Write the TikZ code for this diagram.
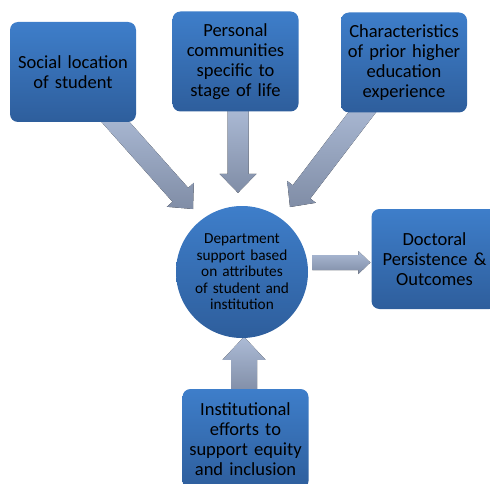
\documentclass[tikz,border=0pt]{standalone}
\usepackage{fontspec}
\setmainfont{Carlito}
\usetikzlibrary{calc,backgrounds}

\definecolor{boxtop}{RGB}{62,126,202}
\definecolor{boxbot}{RGB}{46,94,156}
\definecolor{arrtop}{RGB}{172,187,214}
\definecolor{arrbot}{RGB}{128,141,166}

% block arrow: start, tip, shaft half width, head half width, head length
\newcommand{\blockarrow}[5]{%
  \coordinate (ha) at ($(#2)!#5!(#1)$);
  \fill[arrowfill] ($(#1)!#3!90:(#2)$) -- ($(ha)!#3!90:(#2)$) -- ($(ha)!#4!90:(#2)$) -- (#2)
    -- ($(ha)!#4!-90:(#2)$) -- ($(ha)!#3!-90:(#2)$) -- ($(#1)!#3!-90:(#2)$) -- cycle;}

\begin{document}
\begin{tikzpicture}[x=1pt,y=1pt]
\tikzstyle{box} = [rectangle, rounded corners=8pt, top color=boxtop, bottom color=boxbot, minimum width=126pt, minimum height=100pt, text width=118pt, align=center, font=\fontsize{18.5}{20}\selectfont]
\tikzstyle{hub} = [circle, top color=boxtop, bottom color=boxbot, minimum size=132pt, inner sep=0pt, text width=104pt, align=center, font=\fontsize{15.3}{16.5}\selectfont]
\tikzstyle{arrowfill} = [top color=arrtop, bottom color=arrbot]
\clip (0,0) rectangle (490,-484);
\node[box] (social) at (73,-72) {Social location\\of student};
\node[box] (pers) at (235.5,-61.5) {Personal\\communities\\specific to\\stage of life};
\node[box] (prior) at (404,-62.5) {Characteristics\\of prior higher\\education\\experience};
\node[hub] (dept) at (242,-272) {Department\\support based\\on attributes\\of student and\\institution};
\node[box] (doct) at (434.5,-259) {Doctoral\\Persistence \&\\Outcomes};
\node[box] (inst) at (245.5,-439) {Institutional\\efforts to\\support equity\\and inclusion};
% arrows behind the boxes
\begin{scope}[on background layer]
\coordinate (s1) at ($(social.south)+(36,7.5)$);
\coordinate (t1) at ($(dept.center)+(-49,63)$);
\coordinate (s2) at ($(pers.south)+(2.5,6)$);
\coordinate (t2) at ($(dept.north)+(-4,13)$);
\coordinate (s3) at ($(prior.south)+(-36,8)$);
\coordinate (t3) at ($(dept.center)+(48,65)$);
\coordinate (s4) at ($(doct.west)+(-59,-3.5)$);
\coordinate (t4) at ($(doct.west)+(-1,-3.5)$);
\coordinate (s5) at ($(inst.north)+(-1.5,-4)$);
\coordinate (t5) at ($(inst.north)+(-1.5,52)$);
\blockarrow{s1}{t1}{10.5pt}{18pt}{19pt}
\blockarrow{s2}{t2}{10.5pt}{18.5pt}{19pt}
\blockarrow{s3}{t3}{11pt}{18pt}{19pt}
\blockarrow{s4}{t4}{7.5pt}{11.5pt}{12pt}
\blockarrow{s5}{t5}{13pt}{21.5pt}{23pt}
\end{scope}
\end{tikzpicture}
\end{document}
